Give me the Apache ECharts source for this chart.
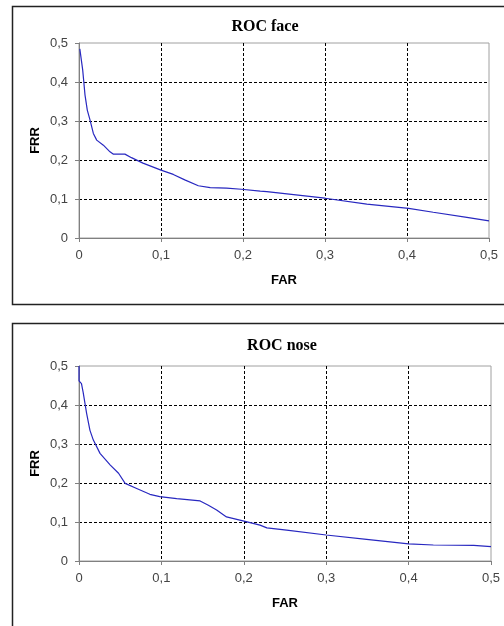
<!DOCTYPE html>
<html><head><meta charset="utf-8">
<script src="https://cdn.jsdelivr.net/npm/echarts@6/dist/echarts.min.js"></script>
<style>html,body{margin:0;padding:0;background:#fff}#c{width:504px;height:626px}</style>
</head><body><div id="c"></div>
<script>
const titles = ['ROC face', 'ROC nose'];
const xName = 'FAR';
const yName = 'FRR';
const axisTicks = [0, 0.1, 0.2, 0.3, 0.4, 0.5];

const faceFAR = [0.001,0.002,0.0045,0.0073,0.0101,0.0134,0.0175,0.0216,0.0297,0.0378,0.042,0.056,0.064,0.078,0.100,0.115,0.129,0.1455,0.160,0.180,0.198,0.221,0.229,0.30,0.351,0.402,0.432,0.473,0.5];
const faceFRR = [0.485,0.482,0.431,0.367,0.328,0.303,0.268,0.251,0.238,0.221,0.215,0.215,0.206,0.192,0.174,0.163,0.149,0.134,0.129,0.128,0.125,0.120,0.119,0.102,0.087,0.076,0.066,0.053,0.044];

const noseFAR = [0.0,0.0,0.003,0.005,0.0093,0.0133,0.0174,0.0255,0.038,0.048,0.056,0.070,0.086,0.098,0.1186,0.147,0.157,0.167,0.179,0.199,0.2197,0.228,0.252,0.30,0.349,0.40,0.43,0.479,0.5];
const noseFRR = [0.5,0.462,0.455,0.433,0.378,0.335,0.31,0.276,0.246,0.225,0.199,0.186,0.171,0.165,0.160,0.154,0.143,0.131,0.113,0.103,0.092,0.085,0.079,0.0666,0.0555,0.044,0.041,0.040,0.037];

const series = [
  faceFAR.map((x,i)=>[x, faceFRR[i]]),
  noseFAR.map((x,i)=>[x, noseFRR[i]])
];

const fmt = v => v === 0 ? '0' : String(+v.toFixed(2)).replace('.', ',');
const grids = [
  {left:79, top:43, width:410, height:195},
  {left:79, top:366, width:412, height:195}
];
const titlePos = [[265, 27], [282, 346]];

const chart = echarts.init(document.getElementById('c'), null, {renderer:'canvas'});
const mk = (i) => ({
  xAxis: {
    type:'value', gridIndex:i, min:axisTicks[0], max:axisTicks[axisTicks.length-1], interval:0.1,
    name:xName, nameLocation:'middle', nameGap:36, nameMoveOverlap:false,
    nameTextStyle:{fontFamily:'Liberation Sans', fontWeight:'bold', fontSize:13, color:'#000'},
    axisLine:{show:true, lineStyle:{color:'#808080', width:1}},
    axisTick:{show:true, inside:false, length:4, lineStyle:{color:'#808080'}},
    axisLabel:{formatter:fmt, fontFamily:'Liberation Sans', fontSize:13, color:'#444', margin:11},
    splitLine:{show:true, showMinLine:false, showMaxLine:false, lineStyle:{color:'#000', type:[3,2], width:1}}
  },
  yAxis: {
    type:'value', gridIndex:i, min:axisTicks[0], max:axisTicks[axisTicks.length-1], interval:0.1,
    name:yName, nameLocation:'middle', nameGap:37, nameRotate:90, nameMoveOverlap:false,
    nameTextStyle:{fontFamily:'Liberation Sans', fontWeight:'bold', fontSize:13, color:'#000'},
    axisLine:{show:true, lineStyle:{color:'#808080', width:1}},
    axisTick:{show:true, inside:false, length:4, lineStyle:{color:'#808080'}},
    axisLabel:{formatter:fmt, fontFamily:'Liberation Sans', fontSize:13, color:'#444', margin:11},
    splitLine:{show:true, showMinLine:false, showMaxLine:false, lineStyle:{color:'#000', type:[3,2], width:1}}
  },
  series: {
    type:'line', xAxisIndex:i, yAxisIndex:i, data:series[i], showSymbol:false, symbol:'none',
    smooth:false, lineStyle:{color:'#2828c0', width:1.2}, silent:true
  }
});
const parts = [mk(0), mk(1)];
chart.setOption({
  animation:false,
  grid: grids.map(g => Object.assign({show:true, borderColor:'#a0a0a0', borderWidth:1, backgroundColor:'transparent'}, g)),
  xAxis: parts.map(p=>p.xAxis),
  yAxis: parts.map(p=>p.yAxis),
  series: parts.map(p=>p.series),
  graphic: [
    {type:'rect', shape:{x:12.5, y:6.5, width:520, height:298}, style:{fill:'none', stroke:'#222', lineWidth:1.5}, silent:true, z:-1},
    {type:'rect', shape:{x:12.5, y:323.5, width:520, height:330}, style:{fill:'none', stroke:'#222', lineWidth:1.5}, silent:true, z:-1},
    ...titles.map((t,i)=>({type:'text', x:titlePos[i][0], y:titlePos[i][1],
      style:{text:t, textAlign:'center', textVerticalAlign:'middle', font:'bold 16px "Liberation Serif"', fill:'#000'}}))
  ]
});
</script></body></html>
